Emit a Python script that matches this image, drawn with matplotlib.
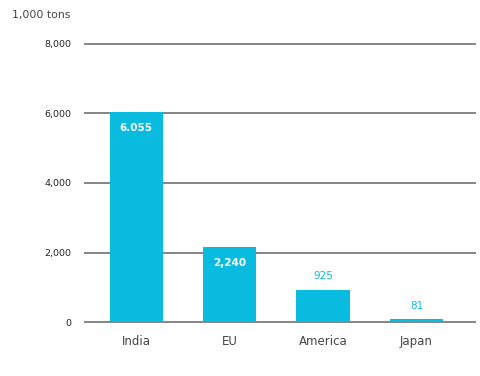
import matplotlib.pyplot as plt

categories = ["India", "EU", "America", "Japan"]
heights = [6055, 2165, 925, 81]
value_labels = ["6.055", "2,240", "925", "81"]
yticks = [0, 2000, 4000, 6000, 8000]

bar_color = "#0abbe0"
grid_color = "#858585"

fig = plt.figure(figsize=(4.8, 3.76), dpi=100)
ax = fig.add_axes([0.177, 0.1436, 0.813, 0.7394])

x = range(len(categories))
ax.bar(x, heights, width=0.57, color=bar_color, zorder=3)

for i, (h, lab) in enumerate(zip(heights, value_labels)):
    if h > 1500:
        ax.text(i, h - 460, lab, ha="center", va="center", color="white",
                fontsize=7.5, fontweight="bold", zorder=4)
    else:
        ax.text(i, h + 250, lab, ha="center", va="bottom", color=bar_color,
                fontsize=7.5, fontweight="medium", zorder=4)

ax.set_xlim(-0.55, 3.63)
ax.set_ylim(0, 8000)
ax.set_yticks(yticks)
ax.set_yticklabels([f"{v:,}" for v in yticks], fontsize=6.8, color="#222222")
ax.yaxis.grid(True, color=grid_color, linewidth=1.4, zorder=0)
for gl in ax.get_ygridlines():
    gl.set_clip_on(False)
ax.tick_params(axis="y", length=0, pad=10)
ax.set_xticks(list(x))
ax.set_xticklabels(categories, fontsize=8.5, color="#444444", fontweight="medium")
ax.tick_params(axis="x", length=0, pad=9)
for s in ax.spines.values():
    s.set_visible(False)

fig.text(12 / 480, 1 - 15 / 376, "1,000 tons", fontsize=7.8, color="#444444",
         ha="left", va="center")

fig.savefig("out.png", dpi=100)
